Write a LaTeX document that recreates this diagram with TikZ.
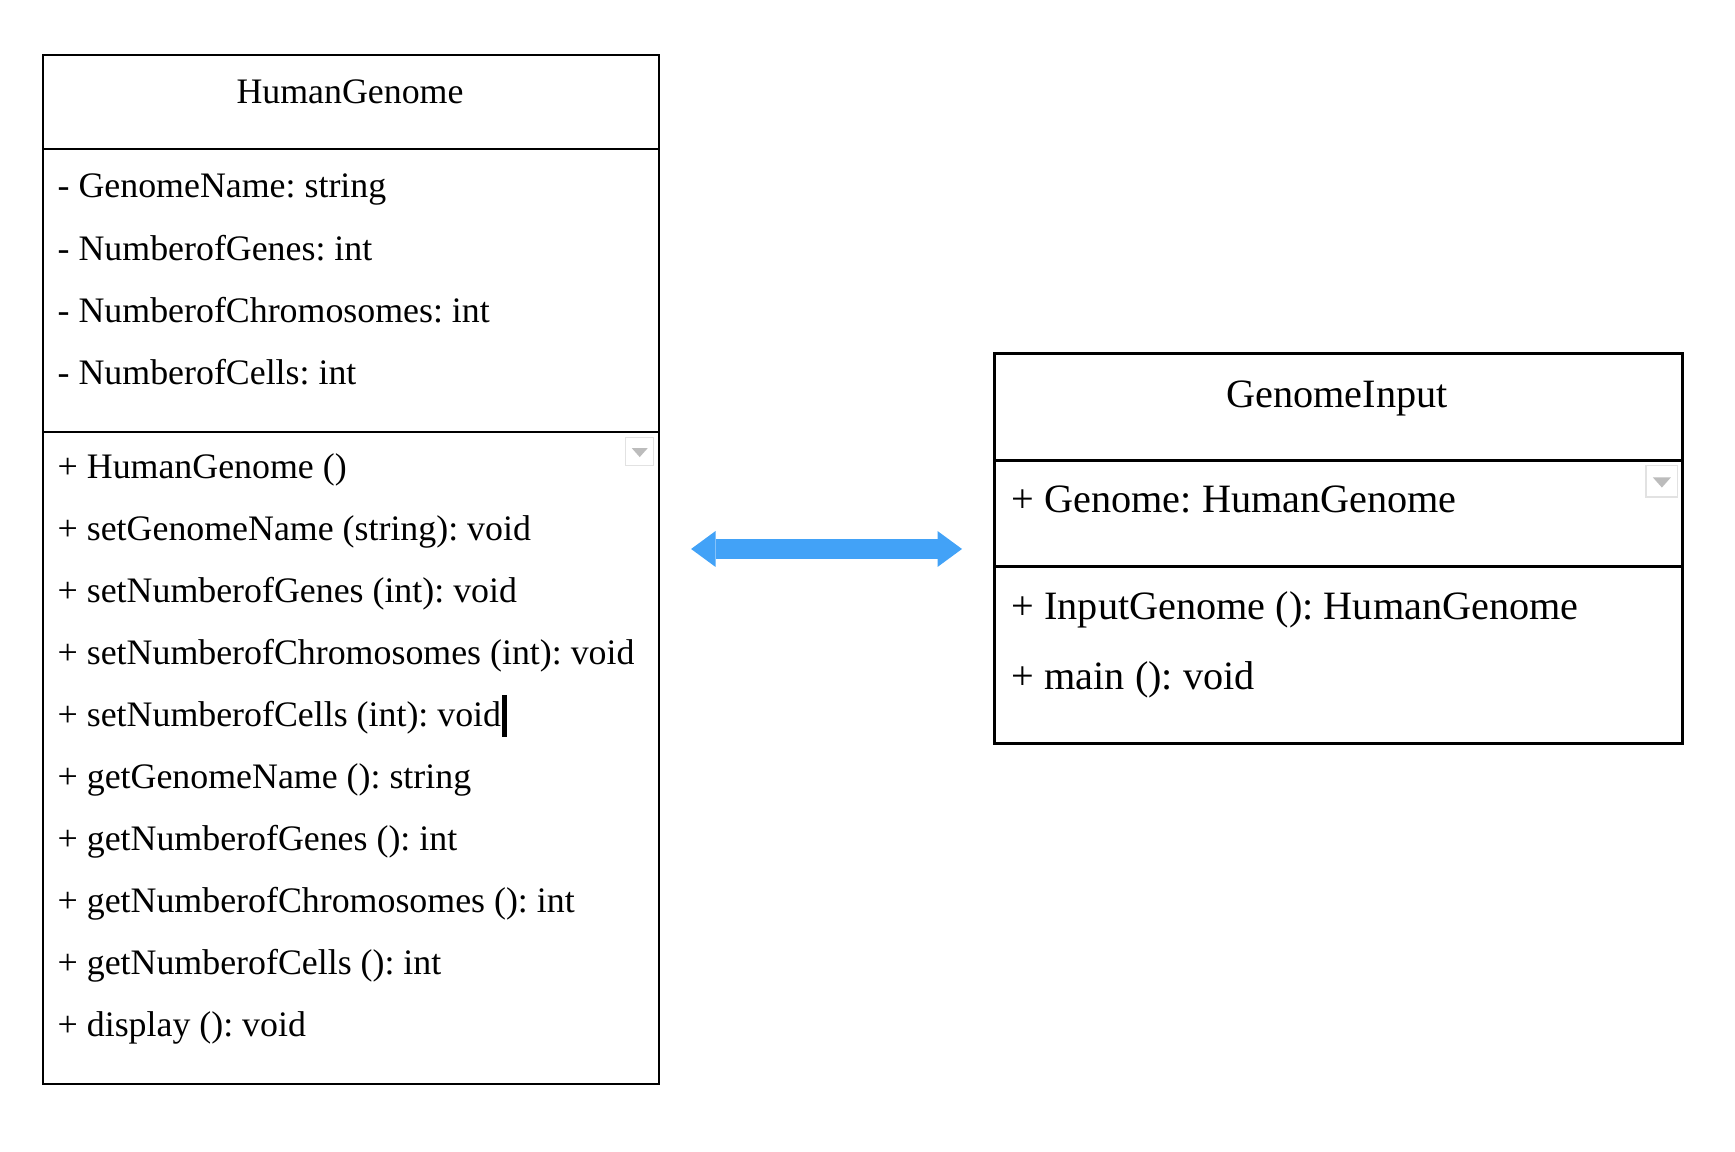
\documentclass[tikz,border=0pt]{standalone}
\usepackage{fontspec}
\setmainfont{Liberation Serif}
\usetikzlibrary{arrows.meta,positioning}
\definecolor{linkblue}{RGB}{66,162,247}
\definecolor{iconborder}{RGB}{226,226,226}
\definecolor{icongray}{RGB}{188,188,188}
\frenchspacing

\begin{document}
\begin{tikzpicture}[x=0.1mm, y=-0.1mm,
    compart/.style={draw, line width=0.6pt, anchor=north west, inner sep=0pt, minimum width=61.6mm},
    compartR/.style={draw, line width=0.85pt, anchor=north west, inner sep=0pt, minimum width=68.8mm},
    member/.style={anchor=base west, inner sep=0pt, font=\fontsize{10.2}{12}\selectfont},
    memberR/.style={anchor=base west, inner sep=0pt, font=\fontsize{11.45}{14}\selectfont},
    linkarrow/.style={draw=linkblue, line width=2mm, {Triangle[width=3.6mm,length=2.45mm,line width=0pt]}-{Triangle[width=3.6mm,length=2.45mm,line width=0pt]}}]
    \useasboundingbox (0,0) rectangle (1735,1152);

    % Classe HumanGenome
    \node[compart, minimum height=9.4mm] (hgHead) at (42,54) {};
    \node[compart, minimum height=28.3mm] (hgAttr) at (42,148) {};
    \node[compart, minimum height=65.2mm] (hgOps) at (42,431) {};
    \node[member, anchor=base] (hgName) at (350,104) {HumanGenome};

    \foreach \i/\txt in {
        1/{- GenomeName: string}, 2/{- NumberofGenes: int},
        3/{- NumberofChromosomes: int}, 4/{- NumberofCells: int}
    } {
        \node[member] (hgA\i) at (57,198+62.3*\i-62.3) {\txt};
    }

    \foreach \i/\txt in {
        1/{+ HumanGenome ()}, 2/{+ setGenomeName (string): void},
        3/{+ setNumberofGenes (int): void}, 4/{+ setNumberofChromosomes (int): void},
        5/{+ setNumberofCells (int): void}, 6/{+ getGenomeName (): string},
        7/{+ getNumberofGenes (): int}, 8/{+ getNumberofChromosomes (): int},
        9/{+ getNumberofCells (): int}, 10/{+ display (): void}
    } {
        \node[member] (hgM\i) at (57,479+62*\i-62) {\txt};
    }

    % Curseur de texte
    \draw[line width=0.45mm] ([xshift=0.25mm]hgM5.base east) ++(0,-32) -- ++(0,42);

    % Classe GenomeInput
    \node[compartR, minimum height=10.7mm] (giHead) at (993,352) {};
    \node[compartR, minimum height=10.6mm] (giAttr) at (993,459) {};
    \node[compartR, minimum height=17.7mm] (giOps) at (993,565) {};
    \node[memberR, anchor=base] (giName) at (1337,408) {GenomeInput};
    \node[memberR] (giA1) at (1011,513) {+ Genome: HumanGenome};
    \node[memberR] (giM1) at (1011,620) {+ InputGenome (): HumanGenome};
    \node[memberR] (giM2) at (1011,690) {+ main (): void};

    % Petites icones grises
    \foreach \comp/\s in {hgOps/28, giAttr/31.5} {
        \coordinate (ic) at ([shift={(-6.5,6.5)}]\comp.north east);
        \draw[iconborder, line width=0.5pt, fill=white] (ic) rectangle ++(-\s,\s);
        \fill[icongray] (ic) ++(-0.21*\s,0.38*\s) -- ++(-0.57*\s,0) -- ++(0.285*\s,0.32*\s) -- cycle;
    }

    % Association
    \coordinate (linkY) at (0,549);
    \draw[linkarrow, shorten <=3.1mm, shorten >=3.1mm] (hgOps.east |- linkY) -- (giHead.west |- linkY);
\end{tikzpicture}
\end{document}
